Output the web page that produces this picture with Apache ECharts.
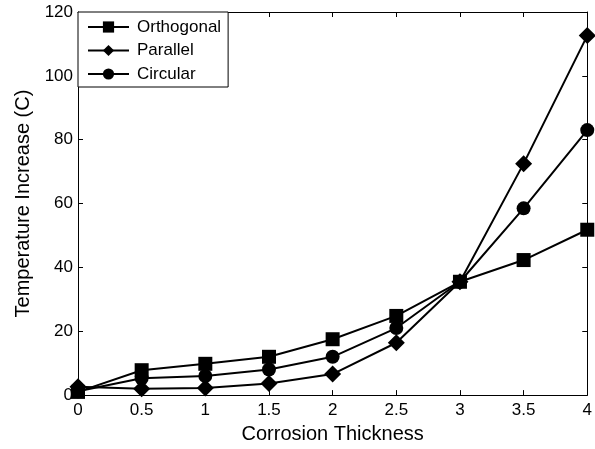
<!DOCTYPE html>
<html>
<head>
<meta charset="utf-8">
<script src="https://cdn.jsdelivr.net/npm/echarts@6/dist/echarts.min.js"></script>
<style>
  html, body { margin: 0; padding: 0; background: #fff; }
  #chart { width: 595px; height: 449px; }
</style>
</head>
<body>
<div id="chart"></div>
<script>
// corrosion thickness values (x)
const thickness = [0, 0.5, 1, 1.5, 2, 2.5, 3, 3.5, 4];
// temperature increase per layout
const orthogonal = [1, 7.8, 9.8, 12, 17.5, 24.8, 35.5, 42.3, 51.8];
const parallel = [2.6, 2, 2.2, 3.6, 6.6, 16.4, 35.5, 72.5, 112.6];
const circular = [1.2, 5.3, 6, 8, 12, 21, 35.5, 58.5, 83];

const font = "Liberation Sans, Arial, sans-serif";

function pairs(vals) {
  return thickness.map((x, i) => [x, vals[i]]);
}

function makeSeries(name, vals, symbol, size) {
  return {
    name: name,
    type: "line",
    data: pairs(vals),
    symbol: symbol,
    symbolSize: size,
    lineStyle: { color: "#000", width: 2 },
    itemStyle: { color: "#000" },
    animation: false,
    z: 3
  };
}

const chart = echarts.init(document.getElementById("chart"));

function frameAxis() {
  return {
    axisLine: { show: true, onZero: false, lineStyle: { color: "#000", width: 1 } },
    axisTick: { show: true, inside: true, length: 5, lineStyle: { color: "#000", width: 1 } },
    splitLine: { show: false }
  };
}

const option = {
  backgroundColor: "#fff",
  animation: false,
  grid: { left: 78, right: 3, top: 12, bottom: 52.5, containLabel: false },
  legend: {
    orient: "vertical",
    left: 78,
    top: 12,
    backgroundColor: "#fff",
    borderColor: "#000",
    borderWidth: 1,
    padding: [6.5, 7, 4.5, 9],
    itemWidth: 41,
    itemHeight: 14,
    itemGap: 6.5,
    textStyle: { fontFamily: font, fontSize: 17, lineHeight: 17, color: "#000", padding: [0, 0, 0, 3] },
    data: ["Orthogonal", "Parallel", "Circular"],
    z: 10
  },
  xAxis: [
    Object.assign({
      type: "value",
      min: 0, max: 4, interval: 0.5,
      name: "Corrosion Thickness",
      nameLocation: "middle",
      nameGap: 28,
      nameTextStyle: { fontFamily: font, fontSize: 20, color: "#000" },
      axisLabel: { fontFamily: font, fontSize: 17, color: "#000", margin: 7 }
    }, frameAxis()),
    Object.assign({
      type: "value",
      position: "top",
      min: 0, max: 4, interval: 0.5,
      axisLabel: { show: false }
    }, frameAxis())
  ],
  yAxis: [
    Object.assign({
      type: "value",
      min: 0, max: 120, interval: 20,
      name: "Temperature Increase (C)",
      nameLocation: "middle",
      nameGap: 43,
      nameTextStyle: { fontFamily: font, fontSize: 20, color: "#000" },
      axisLabel: { fontFamily: font, fontSize: 17, color: "#000", margin: 5 }
    }, frameAxis()),
    Object.assign({
      type: "value",
      position: "right",
      min: 0, max: 120, interval: 20,
      axisLabel: { show: false }
    }, frameAxis())
  ],
  series: [
    makeSeries("Orthogonal", orthogonal, "rect", 14),
    makeSeries("Parallel", parallel, "diamond", 17),
    makeSeries("Circular", circular, "circle", 14)
  ]
};

option && chart.setOption(option);
</script>
</body>
</html>
